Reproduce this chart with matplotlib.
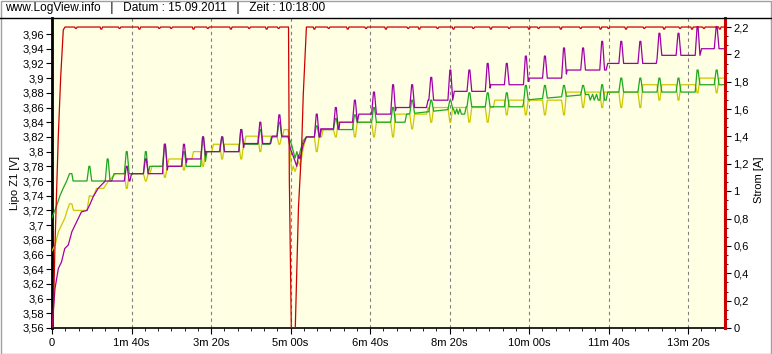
import numpy as np
import matplotlib
matplotlib.use("Agg")
import matplotlib.pyplot as plt
from matplotlib.ticker import FixedLocator, AutoMinorLocator, FuncFormatter
from matplotlib.lines import Line2D
from matplotlib.patches import Rectangle

plt.rcParams['font.family'] = ['Liberation Sans', 'DejaVu Sans']

# ---------------- data (time in seconds) ----------------
header = "www.LogView.info   |   Datum : 15.09.2011   |   Zeit : 10:18:00"
x_ticks = [0, 100, 200, 300, 400, 500, 600, 700, 800]
x_tick_labels = ["0", "1m 40s", "3m 20s", "5m 00s", "6m 40s", "8m 20s",
                 "10m 00s", "11m 40s", "13m 20s"]
t_end = 846.5

# purple cell voltage: base path
purple_t = [0, 3.8, 8, 12, 16, 20.5, 25, 29, 33, 37, 44, 48, 52, 58, 67, 98, 100,
            144, 146, 168, 170, 192, 194, 240, 242, 275, 277, 297,
            299.5, 303, 305.7, 307.8, 310, 312, 314, 316, 320,
            337, 338, 361, 362, 384, 386, 431, 433, 471, 473, 504, 506, 550, 552,
            598, 600, 646, 648, 697, 699, 760, 762, 815, 817, 847]
purple_v = [3.56, 3.614, 3.641, 3.65, 3.668, 3.673, 3.691, 3.70, 3.709, 3.718, 3.72,
            3.729, 3.739, 3.75, 3.76, 3.76, 3.77,
            3.77, 3.78, 3.78, 3.79, 3.79, 3.80, 3.80, 3.811, 3.811, 3.821, 3.821,
            3.805, 3.795, 3.787, 3.78, 3.795, 3.79, 3.80, 3.81, 3.82,
            3.82, 3.831, 3.831, 3.84, 3.84, 3.851, 3.851, 3.86, 3.86, 3.87, 3.87,
            3.882, 3.882, 3.891, 3.891, 3.90, 3.90, 3.911, 3.911, 3.92, 3.92,
            3.931, 3.931, 3.94, 3.94]
purple_spike_t = [94, 118, 142, 166, 190, 214, 238, 262, 286,
                  333, 357, 381, 405, 429, 453, 477, 501, 525, 548, 572, 596,
                  620, 644, 668, 692, 716, 740, 764, 788, 812, 836]
purple_spike_v = [3.78, 3.79, 3.81, 3.81, 3.82, 3.82, 3.83, 3.84, 3.85,
                  3.851, 3.86, 3.87, 3.881, 3.891, 3.891, 3.901, 3.911, 3.911,
                  3.92, 3.92, 3.93, 3.93, 3.941, 3.941, 3.95, 3.95, 3.95,
                  3.961, 3.961, 3.97, 3.97]

# green cell voltage
green_t = [0, 6, 10, 14, 18.5, 22, 25, 26.5, 75, 78, 121, 123, 192, 195, 238, 241,
           274, 276, 297, 299.5, 301.5, 305.7, 308, 310, 312, 316, 320,
           337, 339, 381, 383, 444, 446, 505, 507, 509, 511, 513, 515,
           519, 521, 592, 594, 675, 677, 680, 682, 685, 687,
           697, 699, 810, 812, 847]
green_v = [3.71, 3.727, 3.74, 3.75, 3.76, 3.77, 3.77, 3.76, 3.76, 3.77, 3.77, 3.78,
           3.78, 3.80, 3.80, 3.81, 3.81, 3.82, 3.82, 3.815, 3.809, 3.791, 3.80,
           3.791, 3.80, 3.815, 3.82,
           3.82, 3.83, 3.83, 3.84, 3.84, 3.851, 3.858, 3.851, 3.858, 3.851, 3.858,
           3.851, 3.851, 3.861, 3.861, 3.87, 3.878, 3.87, 3.878, 3.87, 3.878, 3.87,
           3.87, 3.881, 3.881, 3.891, 3.891]
green_spike_t = [47, 70, 94, 118, 142, 166, 190, 214, 238, 262, 286,
                 333, 357, 381, 405, 429, 453, 477, 501, 525, 548, 572, 596,
                 620, 644, 668, 692, 716, 740, 764, 788, 812, 836]
green_spike_v = [3.78, 3.79, 3.80, 3.80, 3.81, 3.80, 3.82, 3.82, 3.83, 3.83, 3.84,
                 3.835, 3.845, 3.85, 3.86, 3.86, 3.87, 3.87, 3.87, 3.88, 3.88,
                 3.88, 3.89, 3.89, 3.89, 3.89, 3.891, 3.90, 3.90, 3.90, 3.90,
                 3.911, 3.911]

# yellow cell voltage
yellow_t = [0, 4, 8, 12, 16, 18.5, 22, 25, 27, 44, 47, 52, 56, 65, 71, 80,
            123, 126, 145, 147, 176, 178, 201, 203, 242, 244, 290, 292, 297,
            299.5, 301.5, 303.5, 305.7, 310, 312, 316, 320,
            339, 341, 354, 356, 430, 432, 471, 473, 555, 557, 645, 647,
            741, 743, 809, 811, 847]
yellow_v = [3.665, 3.673, 3.691, 3.70, 3.709, 3.718, 3.729, 3.729, 3.72, 3.72, 3.74,
            3.739, 3.75, 3.75, 3.76, 3.77,
            3.77, 3.78, 3.78, 3.79, 3.79, 3.80, 3.80, 3.81, 3.81, 3.821, 3.821,
            3.83, 3.83,
            3.80, 3.773, 3.78, 3.773, 3.787, 3.78, 3.805, 3.82,
            3.82, 3.83, 3.83, 3.84, 3.84, 3.851, 3.851, 3.86, 3.86, 3.87, 3.87,
            3.881, 3.881, 3.891, 3.891, 3.90, 3.90]
yellow_spike_t = [94, 118, 142, 166, 190, 214, 238, 262, 286,
                  333, 357, 381, 405, 429, 453, 477, 501, 525, 548, 572, 596,
                  620, 644, 668, 692, 716, 740, 764, 788, 812, 836]
yellow_spike_v = [3.75, 3.76, 3.765, 3.775, 3.78, 3.79, 3.79, 3.80, 3.81,
                  3.80, 3.82, 3.82, 3.82, 3.82, 3.831, 3.84, 3.84, 3.84, 3.84,
                  3.85, 3.85, 3.85, 3.85, 3.86, 3.86, 3.86, 3.86, 3.87, 3.87,
                  3.88, 3.88]

# current (right axis)
red_t = [0, 1.3, 3.8, 7.9, 10.9, 14.2, 16.4, 297.5, 298.5, 301, 306, 308, 310,
         314, 316, 320, 847]
red_v = [0, 0, 0.62, 1.40, 1.83, 2.18, 2.2, 2.2, 1.1, 0, 0, 0.44, 0.88,
         1.32, 1.70, 2.2, 2.2]
red_notch_t = [30, 62, 85, 110, 135, 150, 178, 196, 225, 248, 270, 285,
               330, 348, 372, 395, 420, 448, 462, 485, 505, 530, 552, 575,
               600, 612, 640, 665, 690, 700, 722, 745, 770, 790, 805, 820, 840]
red_notch_v = [2.19, 2.185, 2.19, 2.185, 2.19, 2.19, 2.185, 2.19, 2.185, 2.19,
               2.185, 2.19, 2.185, 2.19, 2.185, 2.19, 2.185, 2.19, 2.185, 2.19,
               2.185, 2.19, 2.185, 2.19, 2.185, 2.19, 2.185, 2.19, 2.185, 2.19,
               2.185, 2.19, 2.185, 2.19, 2.185, 2.19, 2.185]


def with_spikes(bt, bv, st, sv, half):
    bt = np.asarray(bt, float)
    bv = np.asarray(bv, float)
    keep = np.ones(len(bt), bool)
    for ts in st:
        keep &= ~((bt > ts - half) & (bt < ts + half))
    t = list(bt[keep])
    v = list(bv[keep])
    for ts, peak in zip(st, sv):
        b0 = float(np.interp(ts - half, bt, bv))
        b1 = float(np.interp(ts + half, bt, bv))
        t += [ts - half, ts - 0.6, ts + 0.6, ts + half]
        v += [b0, peak, peak, b1]
    order = np.argsort(t, kind="stable")
    return np.array(t)[order], np.array(v)[order]


# ---------------- figure ----------------
W, H = 772, 354
fig = plt.figure(figsize=(W / 100, H / 100), dpi=100)
fig.patch.set_facecolor("white")

L, R, B, T = 52, 725, 328, 18
ax = fig.add_axes([L / W, 1 - B / H, (R - L) / W, (B - T) / H])
ax.set_facecolor("#FFFFE4")
ax2 = ax.twinx()

ax.set_xlim(0, t_end)
ax.set_ylim(3.56, 3.9818)
ax2.set_ylim(0, 2.266)

lw = 0.9
ty, vy = with_spikes(yellow_t, yellow_v, yellow_spike_t, yellow_spike_v, 3.0)
tg, vg = with_spikes(green_t, green_v, green_spike_t, green_spike_v, 3.0)
tp, vp = with_spikes(purple_t, purple_v, purple_spike_t, purple_spike_v, 3.0)
tr, vr = with_spikes(red_t, red_v, red_notch_t, red_notch_v, 1.5)
ax.plot(ty, vy, color="#CCC800", lw=lw, zorder=3)
ax.plot(tg, vg, color="#1EA81E", lw=lw, zorder=4)
ax.plot(tp, vp, color="#A000A8", lw=lw, zorder=5)
ax2.plot(tr, vr, color="#CC0000", lw=lw, zorder=6)

# grid
for xt in x_ticks[1:]:
    ax.axvline(xt, color="#808080", lw=0.8, ls=(0, (3, 3)), zorder=1)

# ticks
def comma(v, pos):
    s = "%g" % round(v, 3)
    return s.replace(".", ",")

ax.xaxis.set_major_locator(FixedLocator(x_ticks))
ax.set_xticklabels(x_tick_labels)
ax.xaxis.set_minor_locator(AutoMinorLocator(6))
ax.yaxis.set_major_locator(FixedLocator(np.round(np.arange(3.56, 3.961, 0.02), 2)))
ax.yaxis.set_major_formatter(FuncFormatter(comma))
ax2.yaxis.set_major_locator(FixedLocator(np.round(np.arange(0, 2.21, 0.2), 1)))
ax2.yaxis.set_major_formatter(FuncFormatter(comma))
ax2.yaxis.set_minor_locator(AutoMinorLocator(3))

ax.tick_params(axis="x", which="major", length=4, width=0.8, pad=3, labelsize=8,
               colors="black")
ax.tick_params(axis="x", which="minor", length=2.5, width=0.6)
ax.tick_params(axis="y", which="major", length=4, width=0.8, pad=1.5, labelsize=8)
ax2.tick_params(axis="y", which="major", length=4, width=0.8, pad=2, labelsize=8)
ax2.tick_params(axis="y", which="minor", length=2.5, width=0.6)

for sp in ["top", "right"]:
    ax.spines[sp].set_visible(False)
ax.spines["left"].set_linewidth(2.0)
ax.spines["left"].set_color("black")
ax.spines["bottom"].set_linewidth(1.2)
ax2.spines["left"].set_visible(False)
ax2.spines["bottom"].set_visible(False)
ax2.spines["top"].set_visible(False)
ax2.spines["right"].set_color("#CC0000")
ax2.spines["right"].set_linewidth(2.2)

# labels
fig.text(15 / W, 1 - 183 / H, "Lipo Z1 [V]", rotation=90, ha="center",
         va="center", fontsize=8)
fig.text(759 / W, 1 - 180 / H, "Strom [A]", rotation=90, ha="center",
         va="center", fontsize=8)
fig.text(5 / W, 1 - 8 / H, header, ha="left", va="center", fontsize=8.6)

# header separator and frame
fig.add_artist(Line2D([0, 1], [1 - T / H, 1 - T / H], color="black", lw=1.0))
fig.add_artist(Rectangle((0.5 / W, 0.5 / H), 1 - 1.5 / W, 1 - 1.5 / H,
                         fill=False, edgecolor="#A0A0A0", lw=1.0,
                         transform=fig.transFigure))

fig.savefig("out.png", dpi=100, facecolor=fig.get_facecolor())
